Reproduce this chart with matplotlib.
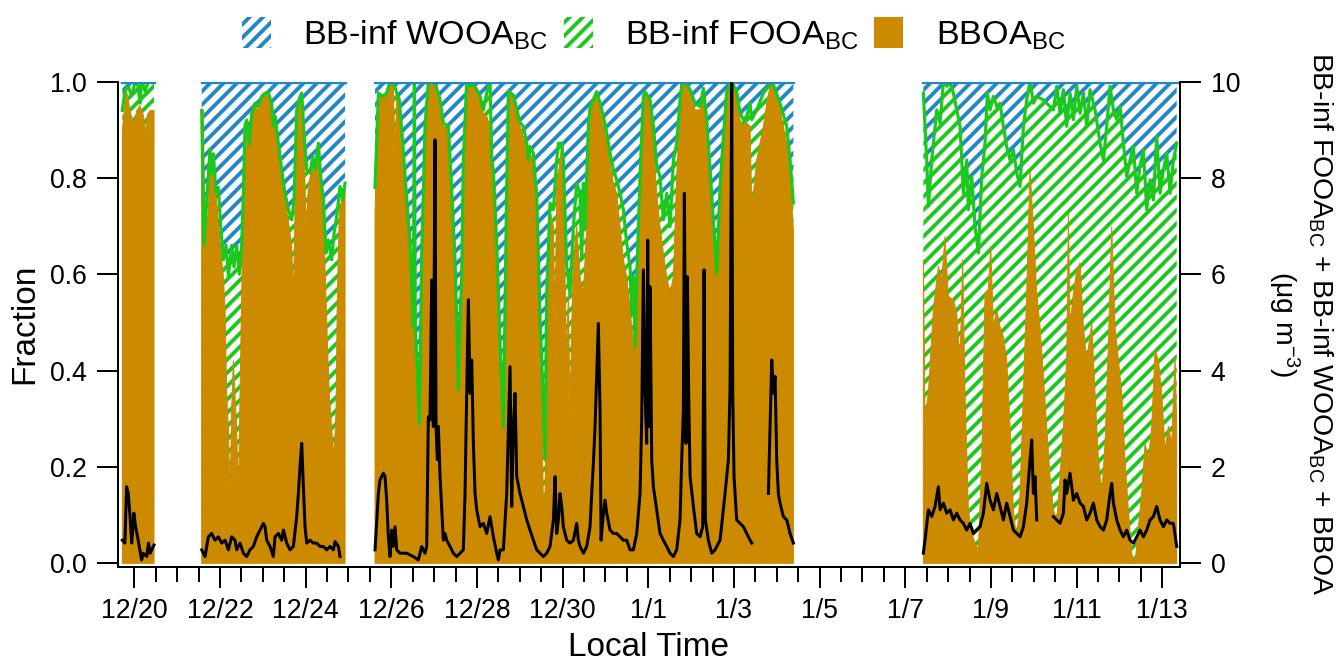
import numpy as np
import matplotlib
matplotlib.use('Agg')
import matplotlib.pyplot as plt
from matplotlib.patches import Patch
from matplotlib.ticker import MultipleLocator

nan = np.nan

# time in days since 12/20 00:00 local, nan separates the sampling periods
bboa_t = [
    -0.28, -0.18, -0.10, -0.02, 0.06, 0.13, 0.21, 0.25, 0.27, 0.30, 0.37, 0.46, nan,
    1.573, 1.612, 1.651, 1.729, 1.767, 1.845, 1.923, 2.001, 2.079, 2.118, 2.157, 2.196, 2.234, 2.273, 2.312,
    2.351, 2.390, 2.429, 2.468, 2.507, 2.546, 2.585, 2.624, 2.686, 2.740, 2.818, 2.896, 2.974, 3.052, 3.130,
    3.207, 3.246, 3.285, 3.363, 3.441, 3.519, 3.597, 3.674, 3.713, 3.752, 3.791, 3.869, 3.908, 3.962, 4.009,
    4.063, 4.141, 4.219, 4.297, 4.352, 4.414, 4.460, 4.507, 4.554, 4.608, 4.663, 4.710, 4.741, 4.787, 4.842,
    4.920, nan,
    5.620, 5.698, 5.814, 5.892, 5.970, 6.048, 6.087, 6.126, 6.188, 6.243, 6.359, 6.437, 6.515, 6.593, 6.655,
    6.709, 6.787, 6.865, 6.943, 7.021, 7.138, 7.215, 7.332, 7.410, 7.488, 7.527, 7.566, 7.605, 7.643, 7.721,
    7.799, 7.877, 7.994, 8.072, 8.150, 8.227, 8.305, 8.383, 8.461, 8.539, 8.601, 8.655, 8.694, 8.733, 8.850,
    9.005, 9.083, 9.161, 9.239, 9.317, 9.395, 9.473, 9.511, 9.550, 9.589, 9.628, 9.667, 9.706, 9.784, 9.823,
    9.862, 9.940, 9.979, 10.017, 10.056, 10.095, 10.134, 10.173, 10.212, 10.251, 10.329,
    10.406, 10.484, 10.523, 10.562, 10.601, 10.640, 10.718, 10.795, 10.873, 10.951, 11.029, 11.107, 11.185,
    11.262, 11.340, 11.418, 11.496, 11.574, 11.652, 11.691, 11.730, 11.807, 11.885, 11.924, 12.041, 12.119,
    12.196, 12.274, 12.352, 12.430, 12.508, 12.586, 12.663, 12.741, 12.780, 12.858, 12.975, 13.091, 13.208,
    13.286, 13.364, 13.442, 13.520, 13.597, 13.675, 13.753, 13.831, 13.948, 14.064, 14.142, 14.220, 14.298,
    14.376, 14.415, 14.453, 14.531, 14.687, 14.765, 14.843, 14.921, 15.076, 15.232, 15.310, 15.388, nan,
    18.422, 18.461, 18.539, 18.656, 18.773, 18.851, 18.928, 19.006, 19.123, 19.201, 19.279, 19.341, 19.395,
    19.473, 19.551, 19.629, 19.707, 19.785, 19.862, 19.940, 19.995, 20.057, 20.135, 20.213, 20.290, 20.368,
    20.446, 20.524, 20.602, 20.680, 20.757, 20.835, 20.913, 20.991, 21.069, 21.147, 21.225, 21.302, 21.380,
    21.458, 21.536, 21.614, 21.691, 21.769, 21.808, 21.847, 21.925, 22.003, 22.081, 22.158, 22.236, 22.353,
    22.431, 22.509, 22.587, 22.664, 22.742, 22.820, 22.898, 22.976, 23.054, 23.131, 23.209, 23.287, 23.365,
    23.443, 23.520, 23.598, 23.676, 23.754, 23.832, 23.909, 23.987, 24.065, 24.143, 24.221, 24.299, 24.337,
]
bboa_frac = [
    0.90, 0.98, 0.94, 0.91, 0.94, 0.95, 0.93, 0.91, 0.88, 0.93, 0.94, 0.94, nan,
    0.94, 0.94, 0.66, 0.73, 0.82, 0.80, 0.75, 0.665, 0.595, 0.53, 0.35, 0.28, 0.13, 0.32, 0.42,
    0.35, 0.28, 0.13, 0.35, 0.56, 0.77, 0.87, 0.92, 0.87, 0.93, 0.95, 0.94, 0.96, 0.97, 0.97,
    0.95, 0.91, 0.92, 0.865, 0.81, 0.755, 0.71, 0.66, 0.55, 0.73, 0.93, 0.96, 0.97, 0.87, 0.70,
    0.78, 0.82, 0.81, 0.865, 0.80, 0.72, 0.595, 0.46, 0.35, 0.28, 0.22, 0.32, 0.56, 0.73, 0.755,
    0.78, nan,
    0.727, 0.976, 0.969, 0.976, 1.0, 0.99, 0.851, 0.969, 0.96, 0.893, 0.754, 0.658, 0.491, 0.388, 0.284,
    0.630, 0.907, 0.995, 1.0, 0.990, 0.955, 0.907, 0.90, 0.768, 0.630, 0.491, 0.360, 0.491, 0.595, 0.837,
    1.0, 0.997, 0.976, 0.962, 0.934, 0.928, 0.907, 0.803, 0.630, 0.422, 0.256, 0.491, 0.768, 0.976, 0.969,
    0.907, 0.886, 0.851, 0.858, 0.824, 0.734, 0.561, 0.353, 0.125, 0.145, 0.422, 0.630, 0.734, 0.699, 0.491,
    0.782, 0.837, 0.872, 0.803, 0.595, 0.422, 0.561, 0.298, 0.491, 0.630, 0.699,
    0.595, 0.561, 0.630, 0.699, 0.837, 0.941, 0.955, 0.976, 0.941, 0.907, 0.872, 0.830, 0.789,
    0.768, 0.699, 0.630, 0.595, 0.526, 0.457, 0.436, 0.561, 0.768, 0.962, 0.976, 0.955, 0.872,
    0.768, 0.699, 0.644, 0.595, 0.561, 0.595, 0.803, 0.941, 0.99, 1.0, 0.976, 0.941, 0.941,
    0.983, 0.907, 0.803, 0.699, 0.616, 0.768, 0.872, 0.976, 1.0, 0.976, 0.921, 0.907, 0.914,
    0.907, 0.748, 0.768, 0.837, 0.907, 0.955, 0.990, 0.990, 0.941, 0.872, 0.803, 0.692, nan,
    0.630, 0.30, 0.353, 0.526, 0.616, 0.588, 0.678, 0.554, 0.547, 0.519, 0.422, 0.630, 0.353,
    0.111, 0.062, 0.042, 0.028, 0.215, 0.561, 0.568, 0.658, 0.491, 0.526, 0.491, 0.471, 0.422,
    0.284, 0.111, 0.048, 0.145, 0.353, 0.561, 0.817, 0.699, 0.561, 0.491, 0.388, 0.284, 0.180,
    0.111, 0.090, 0.180, 0.284, 0.422, 0.727, 0.491, 0.561, 0.609, 0.623, 0.491, 0.422, 0.498,
    0.353, 0.215, 0.145, 0.249, 0.457, 0.699, 0.491, 0.422, 0.353, 0.215, 0.111, 0.021, 0.0,
    0.076, 0.145, 0.249, 0.215, 0.284, 0.443, 0.422, 0.353, 0.235, 0.284, 0.249, 0.429, 0.284,
]

# cumulative fraction BBOA + BB-inf FOOA (BB-inf WOOA fills the rest up to 1)
top_t = [
    -0.28, -0.22, -0.14, -0.06, 0.02, 0.09, 0.13, 0.17, 0.25, 0.33, 0.46, nan,
    1.573, 1.627, 1.690, 1.767, 1.806, 1.845, 1.908, 1.962, 2.016, 2.079, 2.141, 2.196, 2.273, 2.328,
    2.390, 2.452, 2.507, 2.546, 2.585, 2.624, 2.686, 2.740, 2.818, 2.896, 2.974, 3.052, 3.130, 3.207,
    3.246, 3.285, 3.363, 3.441, 3.519, 3.597, 3.674, 3.729, 3.791, 3.869, 3.908, 3.962, 4.025, 4.102,
    4.165, 4.219, 4.297, 4.352, 4.414, 4.476, 4.530, 4.608, 4.663, 4.725, 4.803, 4.865, 4.920, nan,
    5.620, 5.698, 5.814, 5.892, 5.970, 6.048, 6.126, 6.188, 6.243, 6.359, 6.437, 6.515, 6.538, 6.561,
    6.608, 6.655, 6.709, 6.787, 6.865, 7.021, 7.138, 7.215, 7.332, 7.410, 7.488, 7.527, 7.566, 7.605,
    7.643, 7.682, 7.760, 7.838, 7.916, 7.994, 8.072, 8.150, 8.227, 8.305, 8.344, 8.383, 8.461, 8.539,
    8.616, 8.655, 8.694, 8.733, 8.850, 9.005, 9.083, 9.161, 9.200, 9.239, 9.317, 9.356, 9.395, 9.473,
    9.511, 9.550, 9.589, 9.628, 9.706, 9.784, 9.862, 9.901, 9.979, 10.017, 10.095, 10.173, 10.251, 10.329,
    10.406, 10.445, 10.484, 10.523, 10.562, 10.601, 10.640, 10.718, 10.795, 10.873, 10.951, 11.029,
    11.107, 11.185, 11.262, 11.340, 11.418, 11.496, 11.574, 11.613, 11.652, 11.691, 11.730, 11.807,
    11.885, 11.924, 12.041, 12.119, 12.196, 12.274, 12.352, 12.430, 12.508, 12.586, 12.663, 12.741,
    12.780, 12.858, 12.975, 13.091, 13.208, 13.286, 13.364, 13.442, 13.520, 13.597, 13.675, 13.753,
    13.831, 13.948, 14.064, 14.142, 14.220, 14.298, 14.376, 14.415, 14.531, 14.687, 14.843, 14.921,
    15.076, 15.232, 15.310, 15.388, nan,
    18.422, 18.500, 18.539, 18.617, 18.734, 18.812, 18.890, 18.967, 19.045, 19.123, 19.201, 19.279,
    19.356, 19.434, 19.473, 19.551, 19.629, 19.707, 19.785, 19.862, 19.917, 19.979, 20.057, 20.135,
    20.213, 20.290, 20.368, 20.446, 20.524, 20.602, 20.680, 20.757, 20.835, 20.913, 20.991, 21.069,
    21.225, 21.458, 21.536, 21.614, 21.691, 21.769, 21.847, 21.925, 22.003, 22.081, 22.158, 22.236,
    22.314, 22.431, 22.548, 22.626, 22.703, 22.781, 22.859, 22.937, 23.015, 23.092, 23.170, 23.248,
    23.326, 23.404, 23.481, 23.559, 23.637, 23.715, 23.793, 23.870, 23.948, 24.026, 24.104, 24.182,
    24.260, 24.337,
]
top_frac = [
    0.94, 0.98, 0.99, 0.97, 1.0, 0.99, 0.955, 1.0, 0.98, 1.0, 1.0, nan,
    0.94, 0.66, 0.75, 0.86, 0.81, 0.85, 0.77, 0.78, 0.70, 0.63, 0.66, 0.595, 0.66, 0.615,
    0.66, 0.60, 0.66, 0.77, 0.91, 0.92, 0.87, 0.934, 0.955, 0.948, 0.969, 0.976, 0.976, 0.955,
    0.907, 0.928, 0.872, 0.817, 0.768, 0.734, 0.713, 0.754, 0.941, 0.969, 0.976, 0.893, 0.817, 0.810,
    0.844, 0.817, 0.872, 0.803, 0.754, 0.644, 0.671, 0.630, 0.685, 0.720, 0.782, 0.754, 0.789, nan,
    0.78, 0.976, 0.969, 0.976, 1.0, 1.0, 0.976, 0.962, 0.90, 0.76, 0.665, 0.49, 1.0, 0.49,
    0.40, 0.29, 0.64, 0.91, 1.0, 0.997, 0.962, 0.914, 0.907, 0.775, 0.630, 0.505, 0.360, 0.505,
    0.595, 0.837, 1.0, 0.99, 0.993, 0.983, 0.969, 0.941, 0.976, 1.0, 0.837, 0.817, 0.664, 0.457,
    0.284, 0.526, 0.782, 0.979, 0.972, 0.914, 0.907, 0.872, 0.837, 0.865, 0.851, 0.803, 0.768, 0.505,
    0.422, 0.318, 0.215, 0.561, 0.748, 0.734, 0.837, 0.872, 0.872, 0.837, 0.616, 0.561, 0.699, 0.789,
    0.768, 0.630, 0.789, 0.699, 0.803, 0.907, 0.948, 0.962, 0.979, 0.955, 0.928, 0.893,
    0.851, 0.817, 0.796, 0.768, 0.734, 0.664, 0.616, 0.519, 0.595, 0.450, 0.595, 0.803,
    0.969, 0.979, 0.962, 0.907, 0.824, 0.803, 0.713, 0.768, 0.699, 0.837, 0.872, 0.962,
    0.993, 1.0, 0.983, 0.955, 0.948, 0.986, 0.921, 0.817, 0.713, 0.602, 0.782, 0.886,
    0.979, 1.0, 0.979, 0.934, 0.921, 0.928, 0.955, 0.921, 0.941, 0.976, 0.993, 0.993,
    0.955, 0.907, 0.837, 0.748, nan,
    0.976, 0.837, 0.741, 0.837, 0.941, 0.914, 1.0, 0.990, 0.997, 0.976, 0.941, 0.907,
    0.768, 0.837, 0.734, 0.803, 0.699, 0.644, 0.803, 0.872, 0.976, 0.941, 0.969, 0.948,
    0.955, 0.907, 0.865, 0.837, 0.858, 0.810, 0.782, 0.907, 0.962, 1.0, 0.955, 0.969,
    0.962, 0.941, 0.990, 0.934, 0.983, 0.907, 0.976, 0.921, 0.990, 0.934, 0.976, 0.907,
    0.983, 0.941, 0.872, 0.837, 0.907, 0.990, 0.941, 0.921, 0.948, 0.872, 0.803, 0.837,
    0.865, 0.768, 0.824, 0.858, 0.734, 0.796, 0.754, 0.886, 0.768, 0.817, 0.851, 0.768,
    0.837, 0.872,
]

# total BB-influenced OA, ug m-3 (right axis)
total_t = [
    -0.28, -0.22, -0.18, -0.14, -0.10, -0.06, -0.01, 0.03, 0.09, 0.13, 0.17, 0.21, 0.29, 0.33, 0.37, 0.46, nan,
    1.573, 1.651, 1.729, 1.806, 1.884, 1.962, 2.040, 2.118, 2.196, 2.273, 2.351, 2.390, 2.468, 2.546,
    2.624, 2.701, 2.779, 2.857, 2.935, 3.013, 3.052, 3.091, 3.168, 3.246, 3.285, 3.363, 3.441, 3.480,
    3.558, 3.636, 3.713, 3.791, 3.830, 3.869, 3.908, 3.947, 3.986, 4.025, 4.102, 4.180, 4.258, 4.336,
    4.414, 4.491, 4.569, 4.647, 4.686, 4.764, 4.803, nan,
    5.620, 5.698, 5.737, 5.814, 5.853, 5.892, 5.931, 5.970, 6.009, 6.048, 6.087, 6.126, 6.204, 6.359,
    6.515, 6.632, 6.709, 6.787, 6.826, 6.865, 6.904, 6.943, 6.982, 7.021, 7.044, 7.075, 7.099, 7.138,
    7.177, 7.215, 7.254, 7.293, 7.371, 7.449, 7.527, 7.605, 7.682, 7.721, 7.760, 7.799, 7.838, 7.877,
    7.916, 7.955, 7.994, 8.072, 8.150, 8.227, 8.305, 8.383, 8.461, 8.500, 8.539, 8.616, 8.694, 8.772,
    8.811, 8.850, 8.889, 8.928, 9.005, 9.083, 9.161, 9.239, 9.317, 9.395, 9.473, 9.550, 9.628, 9.706,
    9.784, 9.823, 9.862, 9.901, 9.940, 9.979, 10.017, 10.095, 10.173, 10.251, 10.329, 10.367,
    10.406, 10.484, 10.562, 10.640, 10.679, 10.718, 10.757, 10.795, 10.834, 10.873, 10.897, 10.951,
    10.990, 11.029, 11.107, 11.185, 11.262, 11.340, 11.418, 11.496, 11.574, 11.652, 11.730, 11.807,
    11.846, 11.885, 11.924, 11.963, 11.986, 12.017, 12.041, 12.080, 12.119, 12.196, 12.274, 12.352,
    12.430, 12.508, 12.586, 12.663, 12.741, 12.780, 12.819, 12.842, 12.881, 12.912, 12.943, 12.975,
    13.053, 13.130, 13.208, 13.271, 13.302, 13.333, 13.403, 13.481, 13.558, 13.675, 13.792, 13.870,
    13.909, 13.948, 13.971, 14.002, 14.064, 14.142, 14.220, 14.298, 14.376, 14.415, nan,
    14.804, 14.843, 14.882, 14.921, 14.960, 14.998, 15.037, 15.076, 15.154, 15.232, 15.310, 15.388, nan,
    18.422, 18.461, 18.539, 18.617, 18.695, 18.773, 18.812, 18.890, 18.967, 19.045, 19.123, 19.201,
    19.279, 19.356, 19.434, 19.512, 19.590, 19.668, 19.746, 19.823, 19.901, 19.979, 20.057, 20.135,
    20.213, 20.290, 20.368, 20.446, 20.524, 20.602, 20.680, 20.757, 20.835, 20.913, 20.952, 20.991,
    21.030, 21.069, nan,
    21.458, 21.536, 21.614, 21.691, 21.730, 21.769, 21.847, 21.925, 22.003, 22.081, 22.158, 22.236,
    22.314, 22.392, 22.470, 22.548, 22.626, 22.703, 22.781, 22.820, 22.859, 22.937, 23.015, 23.092,
    23.170, 23.248, 23.326, 23.404, 23.481, 23.559, 23.637, 23.715, 23.793, 23.870, 23.948, 24.026,
    24.104, 24.182, 24.260, 24.337,
]
total_conc = [
    0.48, 0.42, 1.59, 1.45, 0.97, 0.42, 1.04, 0.76, 0.48, 0.28, 0.07, 0.21, 0.14, 0.42, 0.21, 0.38, nan,
    0.28, 0.14, 0.55, 0.62, 0.48, 0.55, 0.42, 0.48, 0.28, 0.55, 0.48, 0.28, 0.42, 0.21,
    0.14, 0.28, 0.35, 0.55, 0.69, 0.83, 0.76, 0.48, 0.35, 0.14, 0.55, 0.62, 0.48, 0.69,
    0.42, 0.28, 0.35, 0.97, 1.45, 2.01, 2.49, 1.59, 0.76, 0.42, 0.48, 0.42, 0.42, 0.35,
    0.35, 0.28, 0.35, 0.28, 0.45, 0.35, 0.14, nan,
    0.28, 1.45, 1.73, 1.87, 1.80, 1.31, 0.55, 0.14, 0.69, 0.35, 0.76, 0.28, 0.21, 0.21,
    0.14, 0.07, 0.35, 0.21, 0.35, 3.04, 2.97, 5.88, 2.84, 8.79, 2.84, 2.15, 2.84, 1.80,
    1.11, 0.48, 0.62, 0.48, 0.35, 0.21, 0.14, 0.21, 0.28, 1.45, 3.53, 5.47, 3.53, 4.22,
    2.49, 1.45, 1.11, 0.76, 0.83, 0.62, 0.97, 0.55, 0.21, 0.07, 0.28, 0.28, 1.45, 4.08,
    1.18, 2.84, 3.53, 1.80, 1.45, 1.18, 0.90, 0.69, 0.48, 0.28, 0.21, 0.14, 0.21, 0.35,
    0.90, 1.80, 0.62, 0.90, 1.45, 1.18, 0.76, 0.48, 0.42, 0.48, 0.83, 0.48,
    0.35, 0.21, 0.35, 0.76, 1.45, 2.08, 2.84, 3.88, 4.98, 3.18, 0.48, 1.04,
    1.31, 1.04, 0.69, 0.62, 0.62, 0.55, 0.48, 0.48, 0.28, 0.28, 0.62, 1.45,
    2.98, 6.09, 3.53, 2.49, 6.71, 2.84, 5.74, 2.15, 1.59, 1.11, 0.62, 0.48,
    0.35, 0.21, 0.14, 0.28, 0.90, 2.15, 3.18, 7.68, 2.49, 5.95, 3.53, 1.80,
    1.18, 0.62, 0.55, 0.76, 6.09, 0.90, 0.48, 0.21, 0.28, 0.48, 1.45, 2.15,
    3.67, 9.97, 3.53, 1.80, 0.90, 0.83, 0.76, 0.62, 0.48, 0.42, nan,
    1.45, 2.84, 4.22, 3.53, 3.88, 2.15, 1.45, 1.25, 0.97, 0.90, 0.62, 0.42, nan,
    0.21, 0.48, 1.11, 0.97, 1.18, 1.59, 1.11, 1.25, 1.04, 1.11, 0.90, 1.04,
    0.90, 0.83, 0.69, 0.83, 0.62, 0.69, 0.76, 1.04, 1.66, 1.31, 1.11, 1.45,
    1.18, 0.90, 1.25, 0.97, 0.69, 0.62, 0.55, 0.76, 1.25, 2.15, 2.56, 1.45,
    1.80, 0.90, nan,
    0.97, 0.90, 0.83, 1.04, 1.73, 1.45, 1.87, 1.31, 1.45, 1.25, 1.18, 0.90,
    1.04, 1.25, 0.90, 0.76, 0.69, 0.90, 1.45, 1.66, 1.25, 0.90, 0.69, 0.55,
    0.69, 0.48, 0.42, 0.55, 0.69, 0.55, 0.69, 0.90, 0.97, 1.18, 0.90, 0.76,
    0.90, 0.83, 0.83, 0.35,
]

tick_days = [0, 2, 4, 6, 8, 10, 12, 14, 16, 18, 20, 22, 24]
tick_labels = ['12/20', '12/22', '12/24', '12/26', '12/28', '12/30', '1/1',
               '1/3', '1/5', '1/7', '1/9', '1/11', '1/13']

blue = '#2088C8'
green = '#1CC81C'
orange = '#CB8A00'

plt.rcParams['font.family'] = ['Liberation Sans', 'DejaVu Sans']
plt.rcParams['mathtext.fontset'] = 'custom'
plt.rcParams['mathtext.rm'] = 'Liberation Sans'
plt.rcParams['mathtext.it'] = 'Liberation Sans:italic'
plt.rcParams['hatch.linewidth'] = 2.3

fig = plt.figure(figsize=(1336 / 120, 666 / 120), dpi=120)
ax = fig.add_axes([118 / 1336, 1 - 566.7 / 666, 1062 / 1336, 485.2 / 666])
ax2 = ax.twinx()

tt = np.array(top_t)
ft = np.array(top_frac)
ax.fill_between(tt, ft, 1.0, facecolor='white', edgecolor=blue, hatch='///', linewidth=0, zorder=1)
ax.fill_between(tt, 0, ft, facecolor='white', edgecolor=green, hatch='///', linewidth=0, zorder=2)
ax.fill_between(bboa_t, 0, bboa_frac, facecolor=orange, edgecolor=orange, linewidth=0.6, zorder=3)
ax.plot(tt, ft, color=green, lw=1.9, zorder=4)
ax.plot(tt, np.where(np.isnan(ft), nan, 1.0), color=blue, lw=2, zorder=4)
ax2.plot(total_t, total_conc, color='black', lw=1.8)

ax.set_xlim(-0.381, 24.414)
ax.set_ylim(-0.007, 1.0)
ax2.set_ylim(-0.07, 10)

ax.set_xticks(tick_days)
ax.set_xticklabels(tick_labels)
ax.xaxis.set_minor_locator(MultipleLocator(0.5))
ax.set_yticks([0, 0.2, 0.4, 0.6, 0.8, 1.0])
ax.yaxis.set_major_formatter('{x:.1f}')
ax2.set_yticks([0, 2, 4, 6, 8, 10])

for a in (ax, ax2):
    a.tick_params(which='major', direction='out', length=12.5, width=1.2, labelsize=16, pad=6)
    a.tick_params(which='minor', direction='out', length=9, width=1.2)
    for s in a.spines.values():
        s.set_linewidth(1.2)
ax.spines['top'].set_visible(False)
ax.spines['right'].set_visible(False)
for s in ('top', 'left', 'bottom'):
    ax2.spines[s].set_visible(False)

ax.set_ylabel('Fraction', fontsize=20, labelpad=6)
ax.set_xlabel('Local Time', fontsize=20, labelpad=5)
fig.text(1300 / 1336, 1 - 324 / 666,
         'BB-inf FOOA$_{\\mathrm{BC}}$ + BB-inf WOOA$_{\\mathrm{BC}}$ + BBOA\n(\u03bcg m$^{-3}$)',
         rotation=270, ha='center', va='center', fontsize=17, multialignment='center')

handles = [
    Patch(facecolor='white', edgecolor=blue, hatch='///', linewidth=0),
    Patch(facecolor='white', edgecolor=green, hatch='///', linewidth=0),
    Patch(facecolor=orange, edgecolor=orange, linewidth=0),
]
labels = ['BB-inf WOOA$_{\\mathrm{BC}}$', 'BB-inf FOOA$_{\\mathrm{BC}}$', 'BBOA$_{\\mathrm{BC}}$']
fig.legend(handles, labels, loc='upper center', bbox_to_anchor=(0.489, 1.02), ncol=3,
           frameon=False, fontsize=20.5, handlelength=0.85, handleheight=1.0,
           handletextpad=0.95, columnspacing=0.45)

fig.savefig('out.png', dpi=120)
